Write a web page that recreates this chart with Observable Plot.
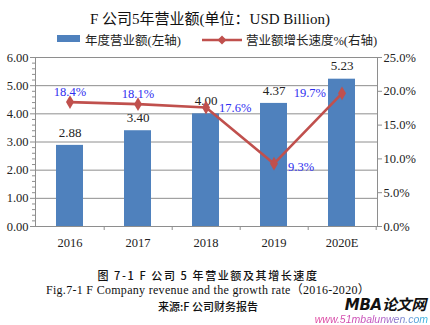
<!DOCTYPE html>
<html>
<head>
<meta charset="utf-8">
<script src="https://cdn.jsdelivr.net/npm/d3@7"></script>
<script src="https://cdn.jsdelivr.net/npm/@observablehq/plot@0.6"></script>
<style>
  html, body { margin: 0; padding: 0; background: #fff; }
  #wrap { position: relative; width: 430px; height: 325px; overflow: hidden; font-family: "Liberation Serif", "Noto Sans CJK SC", serif; }
  .abs { position: absolute; white-space: nowrap; }
  #title { left: 0; width: 420px; top: 7px; text-align: center; font-size: 15px; color: #111; }
  #legend { top: 30px; left: 57px; font-size: 12.5px; color: #222; }
  #chart { left: 0; top: 48px; }
  .cap { left: 0; width: 416px; text-align: center; color: #111; }
  #cap1 { top: 268px; font-size: 11px; line-height: 14px; letter-spacing: 1.6px; font-family: "Noto Sans CJK SC", sans-serif; font-weight: 500; }
  #cap2 { top: 283px; font-size: 12px; line-height: 14px; letter-spacing: 0.3px; }
  #cap3 { top: 299px; font-size: 11px; line-height: 14px; font-family: "Noto Sans CJK SC", sans-serif; font-weight: 500; }
  #wm1 { right: 4px; top: 298px; font-size: 15px; line-height: 14px; font-weight: bold; font-style: italic; font-family: "DejaVu Sans", "Noto Sans CJK SC", sans-serif; color: #111; letter-spacing: -0.3px; }
  #wm2 { right: 2px; top: 314px; font-size: 10.5px; line-height: 11px; font-style: italic; font-family: "Liberation Sans", sans-serif;
         background: linear-gradient(90deg, #e0409a, #c050c0 55%, #30b8e0); -webkit-background-clip: text; background-clip: text; color: transparent; }
</style>
</head>
<body>
<div id="wrap">
  <div id="title" class="abs">F 公司5年营业额(单位：USD Billion)</div>
  <div id="legend" class="abs"></div>
  <div id="chart" class="abs"></div>
  <div id="cap1" class="abs cap">图 7-1 F 公司 5 年营业额及其增长速度</div>
  <div id="cap2" class="abs cap">Fig.7-1 F Company revenue and the growth rate（2016-2020）</div>
  <div id="cap3" class="abs cap">来源:F 公司财务报告</div>
  <div id="wm1" class="abs">MBA论文网</div>
  <div id="wm2" class="abs">www.51mbalunwen.com</div>
</div>
<script>
// ---- data ----
const years = ["2016", "2017", "2018", "2019", "2020E"];
const revenue = [2.88, 3.40, 4.00, 4.37, 5.23];
const growthRate = [18.4, 18.1, 17.6, 9.3, 19.7];
const leftTicks = [0, 1, 2, 3, 4, 5, 6];
const rightTicks = [0, 5, 10, 15, 20, 25];
const seriesNames = ["年度营业额(左轴)", "营业额增长速度%(右轴)"];

// ---- layout / style ----
const W = 430, H = 210;
const mL = 35, mR = 53, mT = 9, mB = 32;
const leftMax = 6, rightMax = 25;
const toLeft = r => r * leftMax / rightMax;
const blue = "#4F81BD", red = "#C0504D", labelBlue = "#2e2ef0", gridC = "#8e8e8e";
const serif = "Liberation Serif, serif";
const halfStep = (W - mL - mR) / years.length / 2;

const data = years.map((y, i) => ({year: y, revenue: revenue[i], rate: growthRate[i], ry: toLeft(growthRate[i]), idx: i}));
const minorTicks = d3.range(0, leftMax * 5 + 1).map(k => k / 5).filter(v => Math.abs(v - Math.round(v)) > 1e-9);

// legend
const legend = document.getElementById("legend");
legend.innerHTML = `
  <span style="display:inline-block;width:23px;height:7px;background:${blue};vertical-align:middle;margin-right:5px;position:relative;top:-1px"></span><span style="vertical-align:middle">${seriesNames[0]}</span>
  <span style="display:inline-block;width:40px;height:10px;vertical-align:middle;margin-left:18px;margin-right:4px;position:relative;top:-1px">
    <svg width="40" height="10"><line x1="0" y1="5" x2="40" y2="5" stroke="${red}" stroke-width="2.5"/><path d="M20,0.5 L24.5,5 L20,9.5 L15.5,5Z" fill="${red}"/></svg>
  </span><span style="vertical-align:middle">${seriesNames[1]}</span>`;

const plot = Plot.plot({
  width: W, height: H,
  marginLeft: mL, marginRight: mR, marginTop: mT, marginBottom: mB,
  style: {fontFamily: serif, fontSize: "12px", color: "#222", background: "transparent"},
  x: {domain: years, paddingInner: 0.6, paddingOuter: 0.3, label: null},
  y: {domain: [0, leftMax], label: null},
  marks: [
    Plot.ruleY(leftTicks, {stroke: gridC, strokeWidth: 1}),
    Plot.frame({stroke: gridC, strokeWidth: 1}),
    Plot.barY(data, {x: "year", y: "revenue", fill: blue}),
    Plot.axisY({ticks: leftTicks, tickSize: 5, tickPadding: 2, tickFormat: d => d.toFixed(2), stroke: gridC, fill: "#222", fontSize: 12.5, label: null}),
    Plot.axisY({ticks: minorTicks, tickSize: 3, tickFormat: () => "", stroke: gridC, label: null}),
    Plot.axisY({anchor: "right", ticks: rightTicks.map(toLeft), tickSize: 4, tickPadding: 2, tickFormat: v => (v * rightMax / leftMax).toFixed(1) + "%", stroke: gridC, fill: "#222", fontSize: 12.5, label: null}),
    Plot.axisX({tickSize: 0, tickPadding: 12, fontSize: 12.5, fill: "#222", label: null}),
    Plot.axisX({tickSize: 4, tickFormat: () => "", dx: halfStep, stroke: gridC, label: null}),
    Plot.text(data, {x: "year", y: "revenue", text: d => d.revenue.toFixed(2), dy: -13, fontSize: 13, fill: "#222"}),
    Plot.line(data, {x: "year", y: "ry", stroke: red, strokeWidth: 2.6}),
    Plot.dot(data, {x: "year", y: "ry", symbol: "diamond", r: 4.2, fill: red, stroke: "none"}),
    Plot.text(data.filter(d => d.idx < 2), {x: "year", y: "ry", text: d => d.rate.toFixed(1) + "%", dy: -10, fontSize: 12.5, fill: labelBlue}),
    Plot.text(data.filter(d => d.idx === 2), {x: "year", y: "ry", text: d => d.rate.toFixed(1) + "%", dx: 13, textAnchor: "start", fontSize: 12.5, fill: labelBlue}),
    Plot.text(data.filter(d => d.idx === 3), {x: "year", y: "ry", text: d => d.rate.toFixed(1) + "%", dx: 14, dy: 3, textAnchor: "start", fontSize: 12.5, fill: labelBlue}),
    Plot.text(data.filter(d => d.idx === 4), {x: "year", y: "ry", text: d => d.rate.toFixed(1) + "%", dx: -16, textAnchor: "end", fontSize: 12.5, fill: labelBlue})
  ]
});
document.getElementById("chart").appendChild(plot);
</script>
</body>
</html>
